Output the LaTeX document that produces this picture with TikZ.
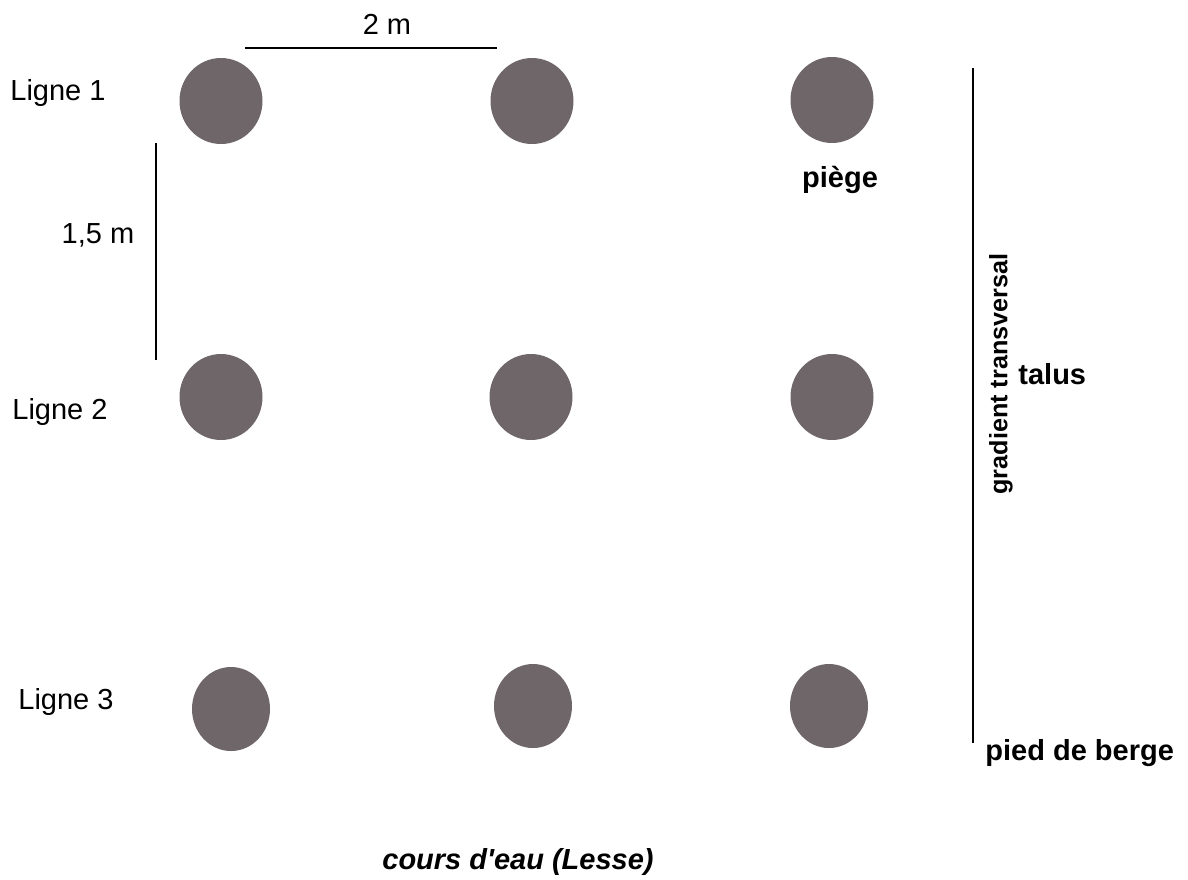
\documentclass[tikz,border=0pt]{standalone}
\usepackage{fontspec}
\setmainfont{Liberation Sans}[Ligatures=TeXOff]
\usetikzlibrary{shapes.geometric}

\definecolor{trapgrey}{RGB}{110,102,104}
\newcommand*{\wmax}{1188}
\newcommand*{\hmax}{879}
\newcommand*{\railx}{973}

\begin{document}
\begin{tikzpicture}
[
	x=0.5pt,
	y=-0.5pt,
	trap/.style={ellipse,fill=trapgrey,inner sep=0pt,minimum width=41.5pt,minimum height=43pt},
	lowtrap/.style={trap,minimum width=39pt,minimum height=42pt},
	lbl/.style={inner sep=0pt,font=\fontsize{14.5}{17}\selectfont},
	blbl/.style={inner sep=0pt,font=\fontsize{14.5}{17}\selectfont\bfseries},
	bar/.style={line width=1.1pt}
]
	\useasboundingbox (0,0) rectangle (\wmax,\hmax);

	% traps
	\foreach \x/\y/\n in {221/101/11,532/101/12,832/100/13,221/397/21,531/397/22,832/397/23} {
		\node[trap] (trap\n) at (\x,\y) {};
	}
	\foreach \x/\y/\n in {231/709/31,533/706/32,829/706/33} {
		\node[lowtrap] (trap\n) at (\x,\y) {};
	}

	% row labels
	\node[lbl,anchor=west] (row1) at (10,93) {Ligne 1};
	\node[lbl,anchor=west] (row2) at (12,412) {Ligne 2};
	\node[lbl,anchor=west] (row3) at (18,702) {Ligne 3};

	% distances
	\coordinate (wleft) at (245,48);
	\coordinate (wright) at (497,48);
	\draw[bar] (wleft) -- (wright);
	\node[lbl] (wdist) at (387,24) {2 m};

	\coordinate (htop) at (156,143);
	\coordinate (hbot) at (156,360);
	\draw[bar] (htop) -- (hbot);
	\node[lbl] (hdist) at (98,235) {1,5 m};

	\node[blbl] (trapname) at (840,180) {piège};

	% bank gradient
	\coordinate (railtop) at (\railx,68);
	\coordinate (railbot) at (\railx,743);
	\draw[line width=1.3pt] (railtop) -- (railbot);
	\node[inner sep=0pt,rotate=90,font=\fontsize{12.6}{15}\selectfont\bfseries] (grad) at (1001,374) {gradient transversal};
	\node[blbl,anchor=west] (slope) at (1018,374) {talus};
	\node[blbl,anchor=west] (foot) at (985,753) {pied de berge};

	\node[blbl,font=\fontsize{14.5}{17}\selectfont\bfseries\itshape] (river) at (518,862) {cours d'eau (Lesse)};

\end{tikzpicture}
\end{document}
